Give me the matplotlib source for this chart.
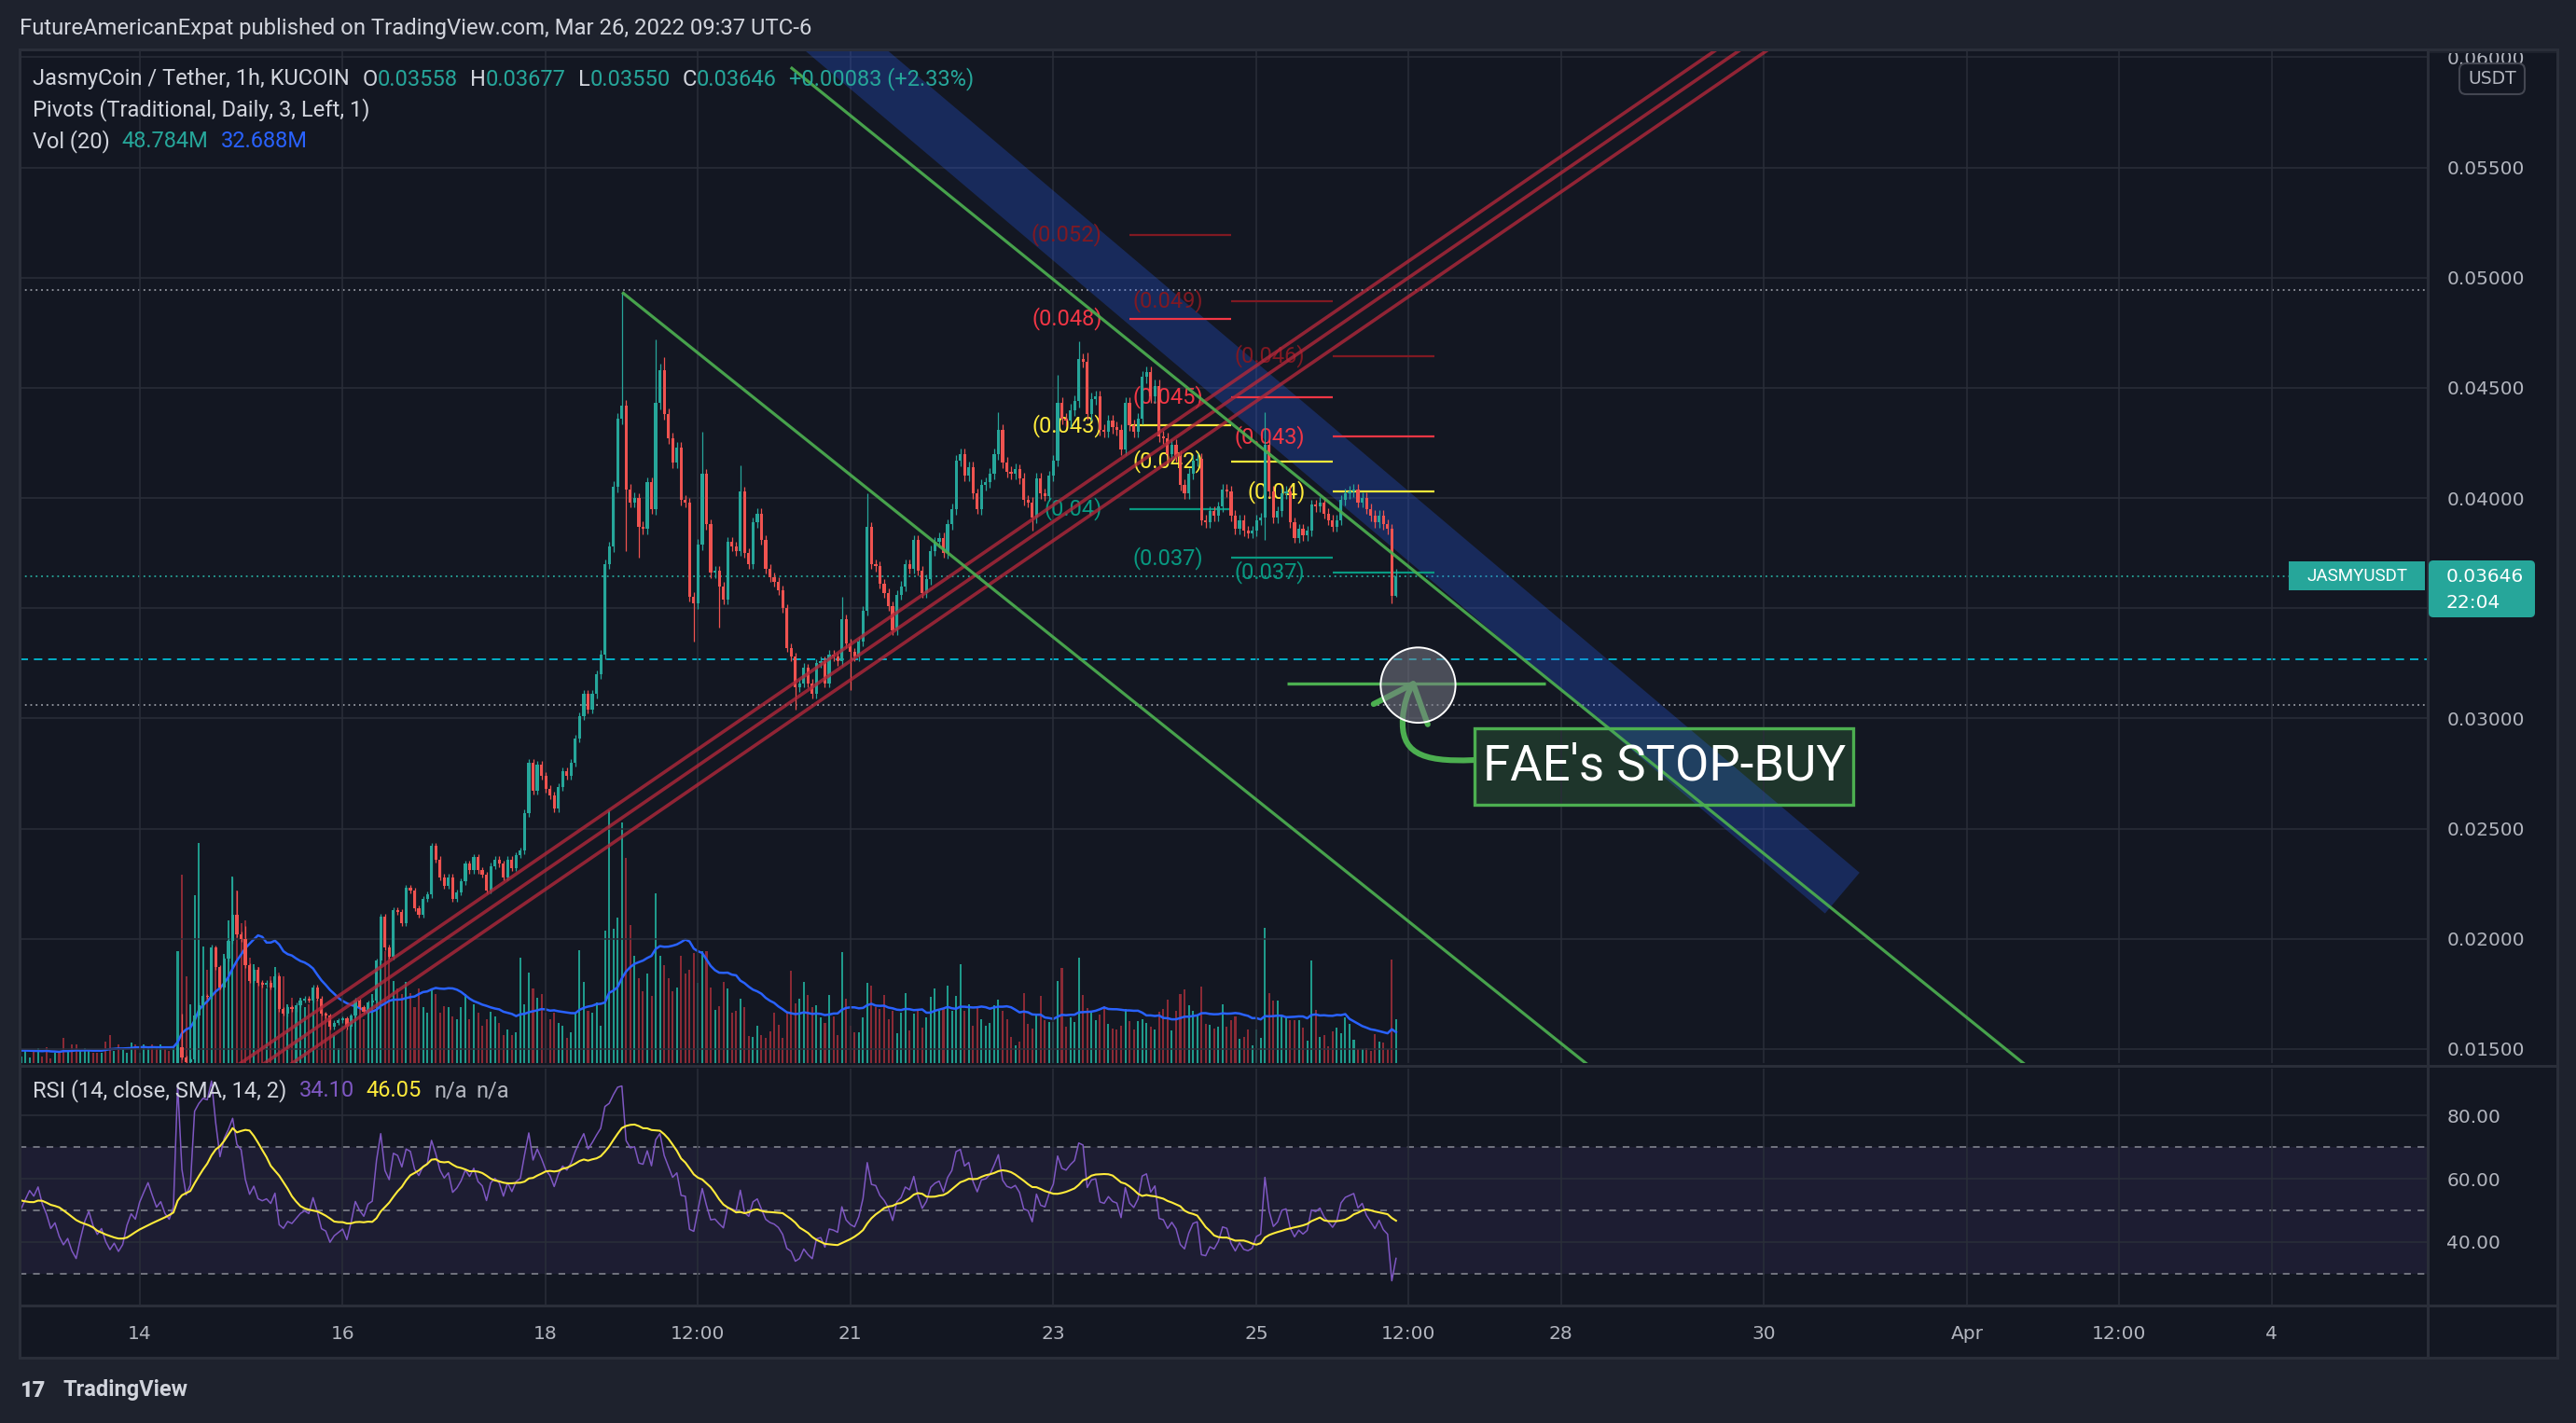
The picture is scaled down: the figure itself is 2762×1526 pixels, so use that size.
import numpy as np
import pandas as pd
import matplotlib
matplotlib.use("Agg")
import matplotlib.pyplot as plt
from matplotlib.patches import Rectangle, Ellipse, Polygon, FancyBboxPatch, PathPatch
from matplotlib.path import Path
from matplotlib.transforms import Affine2D
from matplotlib.ticker import FuncFormatter

# ----------------------------
# Data (JASMY/USDT 1h, KUCOIN)
# ----------------------------
# x axis is "day of March" (32 = Apr 1); first warm-up candle opens Mar 11 08:00
START_DAY = 11 + 8 / 24

# warm-up candles, left of the visible range
PRE_CLOSE = [0.01425, 0.01428, 0.01424, 0.01422, 0.01426, 0.01430, 0.01427, 0.01425, 0.01421, 0.01423,
             0.01426, 0.01424, 0.01420, 0.01418, 0.01422, 0.01425, 0.01423, 0.01427, 0.01429, 0.01426,
             0.01424, 0.01421, 0.01419, 0.01422, 0.01424, 0.01421, 0.01418, 0.01420, 0.01423, 0.01421,
             0.01419, 0.01417, 0.01420, 0.01422, 0.01420, 0.01418]
PRE_VOLUME = [12, 18, 9, 15, 20, 11, 14, 16, 8, 19, 13, 17, 10, 22, 15, 12, 18, 14, 9, 16,
              20, 13, 11, 17, 15, 19, 12, 14, 16, 10, 18, 13, 15, 17, 11, 14]

# visible candles, Mar 12 20:00 -> Mar 26 09:00
CLOSE = [
    0.01419, 0.01421, 0.01423, 0.01422, 0.01424, 0.01421, 0.01419, 0.01416, 0.01417, 0.01414,
    0.01412, 0.01413, 0.01410, 0.01408, 0.01411, 0.01414, 0.01416, 0.01413, 0.01411, 0.01412,
    0.01409, 0.01407, 0.01408, 0.01406, 0.01407, 0.01410, 0.01412, 0.01411, 0.01414, 0.01416,
    0.01418, 0.01416, 0.01414, 0.01415, 0.01413, 0.01412, 0.01414, 0.01510, 0.01462, 0.01440,
    0.01452, 0.01650, 0.01700, 0.01740, 0.01738, 0.01960, 0.01870, 0.01780, 0.01910, 0.01990,
    0.02110, 0.02020, 0.02000, 0.01880, 0.01810, 0.01860, 0.01800, 0.01790, 0.01800, 0.01780,
    0.01830, 0.01680, 0.01660, 0.01690, 0.01680, 0.01700, 0.01720, 0.01730, 0.01720, 0.01780,
    0.01730, 0.01660, 0.01650, 0.01600, 0.01620, 0.01630, 0.01640, 0.01600, 0.01650, 0.01720,
    0.01690, 0.01670, 0.01710, 0.01720, 0.01900, 0.02100, 0.01960, 0.01920, 0.02130, 0.02120,
    0.02070, 0.02230, 0.02220, 0.02140, 0.02110, 0.02180, 0.02200, 0.02420, 0.02360, 0.02280,
    0.02240, 0.02280, 0.02180, 0.02210, 0.02260, 0.02340, 0.02310, 0.02370, 0.02310, 0.02290,
    0.02220, 0.02330, 0.02360, 0.02340, 0.02280, 0.02360, 0.02320, 0.02380, 0.02400, 0.02570,
    0.02800, 0.02670, 0.02790, 0.02740, 0.02680, 0.02650, 0.02590, 0.02690, 0.02760, 0.02740,
    0.02800, 0.02910, 0.03010, 0.03110, 0.03040, 0.03110, 0.03200, 0.03290, 0.03700, 0.03780,
    0.04050, 0.04360, 0.04420, 0.04040, 0.03980, 0.04000, 0.03870, 0.03860, 0.04070, 0.03950,
    0.04430, 0.04580, 0.04380, 0.04270, 0.04160, 0.04230, 0.03990, 0.03980, 0.03550, 0.03520,
    0.03790, 0.04110, 0.03880, 0.03660, 0.03670, 0.03600, 0.03540, 0.03800, 0.03780, 0.03760,
    0.04030, 0.03750, 0.03700, 0.03890, 0.03930, 0.03810, 0.03680, 0.03640, 0.03620, 0.03580,
    0.03500, 0.03320, 0.03280, 0.03140, 0.03160, 0.03230, 0.03160, 0.03110, 0.03250, 0.03260,
    0.03160, 0.03290, 0.03280, 0.03260, 0.03450, 0.03340, 0.03300, 0.03280, 0.03350, 0.03490,
    0.03870, 0.03700, 0.03690, 0.03610, 0.03570, 0.03510, 0.03400, 0.03560, 0.03600, 0.03700,
    0.03680, 0.03810, 0.03670, 0.03570, 0.03630, 0.03760, 0.03800, 0.03820, 0.03750, 0.03880,
    0.03950, 0.04170, 0.04200, 0.04100, 0.04140, 0.04020, 0.03950, 0.04060, 0.04070, 0.04110,
    0.04200, 0.04310, 0.04160, 0.04120, 0.04110, 0.04130, 0.04090, 0.03990, 0.03980, 0.03910,
    0.04090, 0.04020, 0.04010, 0.04100, 0.04170, 0.04430, 0.04360, 0.04350, 0.04400, 0.04440,
    0.04630, 0.04620, 0.04380, 0.04450, 0.04460, 0.04310, 0.04300, 0.04350, 0.04320, 0.04310,
    0.04220, 0.04430, 0.04330, 0.04300, 0.04360, 0.04550, 0.04570, 0.04460, 0.04510, 0.04280,
    0.04270, 0.04200, 0.04240, 0.04190, 0.04060, 0.04020, 0.04110, 0.04170, 0.04180, 0.03900,
    0.03890, 0.03940, 0.03920, 0.03960, 0.04040, 0.04030, 0.03920, 0.03860, 0.03900, 0.03850,
    0.03840, 0.03850, 0.03900, 0.03910, 0.04240, 0.04030, 0.03910, 0.03940, 0.04020, 0.04030,
    0.03890, 0.03820, 0.03860, 0.03830, 0.03850, 0.03970, 0.03960, 0.03980, 0.03930, 0.03900,
    0.03870, 0.03900, 0.03990, 0.04020, 0.04030, 0.04040, 0.03980, 0.04000, 0.03950, 0.03920,
    0.03890, 0.03920, 0.03880, 0.03860, 0.03558, 0.03646,
]

# volume in millions
VOLUME = [
    7, 14, 6, 14, 17, 7, 18, 5, 12, 12,
    28, 14, 21, 21, 14, 17, 14, 12, 12, 12,
    24, 31, 14, 21, 17, 12, 23, 21, 12, 21,
    17, 21, 17, 21, 16, 14, 18, 125, 211, 97,
    66, 188, 247, 131, 104, 129, 129, 97, 122, 160,
    209, 193, 157, 160, 118, 111, 108, 91, 84, 97,
    108, 101, 97, 66, 73, 63, 73, 63, 66, 82,
    71, 63, 56, 49, 31, 17, 42, 38, 45, 70,
    70, 49, 56, 77, 115, 150, 125, 122, 92, 84,
    77, 91, 78, 63, 84, 63, 56, 84, 77, 56,
    64, 63, 52, 49, 63, 77, 49, 66, 56, 42,
    49, 57, 52, 45, 31, 38, 31, 35, 118, 66,
    101, 84, 73, 77, 56, 49, 56, 45, 42, 28,
    35, 56, 126, 91, 59, 56, 68, 42, 148, 283,
    150, 163, 270, 230, 155, 120, 95, 80, 100, 75,
    190, 120, 110, 95, 80, 85, 120, 100, 104, 123,
    90, 125, 125, 85, 60, 64, 91, 84, 56, 59,
    72, 63, 30, 29, 42, 31, 28, 36, 56, 43,
    28, 56, 103, 67, 72, 91, 76, 63, 65, 51,
    45, 76, 52, 31, 124, 72, 42, 35, 35, 51,
    90, 87, 63, 61, 76, 49, 59, 33, 56, 78,
    37, 55, 59, 40, 51, 74, 84, 59, 61, 87,
    59, 75, 111, 59, 66, 42, 64, 49, 42, 45,
    65, 71, 59, 49, 29, 20, 24, 78, 44, 39,
    53, 75, 48, 46, 46, 92, 107, 41, 51, 46,
    118, 76, 62, 58, 48, 54, 64, 44, 39, 38,
    42, 61, 47, 38, 47, 49, 45, 41, 38, 58,
    61, 71, 37, 59, 77, 83, 65, 59, 53, 86,
    44, 43, 39, 41, 66, 41, 48, 52, 27, 29,
    38, 20, 38, 28, 152, 78, 70, 70, 52, 52,
    48, 48, 48, 40, 25, 115, 60, 29, 31, 19,
    36, 40, 33, 51, 44, 26, 16, 16, 17, 14,
    32, 24, 23, 16, 116, 48.784,
]

# long wicks (visible candle index -> high, low)
WICKS = {
    38: (0.0166, None), 50: (0.0228, None), 51: (0.0222, None), 53: (0.0206, None),
    142: (0.0493, None), 143: (None, 0.0376), 146: (None, 0.0373), 150: (0.0472, None),
    152: (0.0464, None), 159: (None, 0.0335), 161: (0.0430, None), 165: (None, 0.0341),
    170: (0.0415, None), 183: (None, 0.0304), 194: (0.0355, None), 196: (None, 0.0313),
    200: (0.0402, None), 206: (None, 0.0338), 231: (0.0439, None), 239: (None, 0.0385),
    245: (0.0456, None), 250: (0.0471, None), 252: (0.0466, None), 294: (0.0439, 0.0381),
    324: (0.0388, 0.0352), 325: (0.03677, 0.03550),
}

# daily pivots (Traditional), sessions start 18:00 local
PIVOT_START = [23.75, 24.75, 25.75]
PIVOT_R2 = [0.05195, 0.04895, 0.04645]
PIVOT_R1 = [0.04814, 0.04459, 0.04278]
PIVOT_P = [0.04330, 0.04166, 0.04029]
PIVOT_S1 = [0.03950, 0.03728, 0.03662]
PIVOT_R2_TXT = ["(0.052)", "(0.049)", "(0.046)"]
PIVOT_R1_TXT = ["(0.048)", "(0.045)", "(0.043)"]
PIVOT_P_TXT = ["(0.043)", "(0.042)", "(0.04)"]
PIVOT_S1_TXT = ["(0.04)", "(0.037)", "(0.037)"]

# user drawings (day, price)
RED_CHANNEL = [((14.5, 0.01279), (31.0, 0.06499)),
               ((14.5, 0.01204), (31.0, 0.06424)),
               ((14.5, 0.01118), (31.0, 0.06338))]
GREEN_LINES = [((18.764, 0.04929), (29.0, 0.01157)),
               ((20.424, 0.05950), (33.5, 0.01083))]
BLUE_BAND = [(20.40, 0.06090), (20.74, 0.06275), (30.94, 0.02300), (30.60, 0.02115)]
STOP_BUY = ((25.302, 27.846), 0.03158)
CIRCLE = ((26.592, 0.03151), 0.737, 0.003415)
ARROW_CURVE = [(27.138, 0.02811), (26.60, 0.02800), (26.42, 0.02850), (26.441, 0.03002),
               (26.46, 0.03100), (26.544, 0.03157)]
ARROW_HEAD = [(26.154, 0.03065), (26.544, 0.03157), (26.687, 0.02973)]
NOTE_BOX = ((27.151, 0.02607), (30.882, 0.02955))
LEVEL_LINES = [(0.04945, "#9598a1", (0, (1, 2.2))), (0.03646, "#26a69a", (0, (1, 2.2))),
               (0.03268, "#00bcd4", (0, (5, 3.5))), (0.03062, "#9598a1", (0, (1, 2.2)))]

TICK_POS = [14, 16, 18, 19.5, 21, 23, 25, 26.5, 28, 30, 32, 33.5, 35]
TICK_LBL = ["14", "16", "18", "12:00", "21", "23", "25", "12:00", "28", "30", "Apr", "12:00", "4"]

# ----------------------------
# Derived series
# ----------------------------
closes = np.array(PRE_CLOSE + CLOSE)
vols = np.array(PRE_VOLUME + VOLUME, dtype=float)
n = len(closes)
npre = len(PRE_CLOSE)
times = START_DAY + np.arange(n) / 24
opens = np.concatenate([[closes[0]], closes[:-1]])
opens[-1] = 0.03558
wick = 0.006 * closes
highs = np.maximum(opens, closes) + wick
lows = np.minimum(opens, closes) - wick
for i, (hi, lo) in WICKS.items():
    if hi is not None:
        highs[npre + i] = hi
    if lo is not None:
        lows[npre + i] = lo
up = closes >= opens

vol_ma = pd.Series(vols).rolling(20).mean()
delta = pd.Series(closes).diff()
gain = delta.clip(lower=0).ewm(alpha=1 / 14, adjust=False).mean()
loss = (-delta.clip(upper=0)).ewm(alpha=1 / 14, adjust=False).mean()
rsi = 100 - 100 / (1 + gain / loss)
rsi_ma = rsi.rolling(14).mean()

# ----------------------------
# Figure / layout (pixel based)
# ----------------------------
W, H = 2762, 1526
BG = "#131722"
GRID = "#2a2e39"
TXT = "#b2b5be"
UP, DOWN = "#26a69a", "#ef5350"
FONT = "Roboto"

fig = plt.figure(figsize=(W / 100, H / 100), dpi=100, facecolor="#1e222d")
PX = Affine2D().scale(1, -1).translate(0, H)

fig.add_artist(Rectangle((21, 53), 2742 - 21, 1456 - 53, transform=PX, facecolor=BG,
                         edgecolor="none", zorder=-5))

L, R = 21, 2603
ax = fig.add_axes([L / W, 1 - 1140 / H, (R - L) / W, (1140 - 53) / H])
ax_vol = ax.twinx()
ax.set_zorder(ax_vol.get_zorder() + 1)
ax.patch.set_visible(False)
ax_vol.patch.set_facecolor(BG)
ax_rsi = fig.add_axes([L / W, 1 - 1400 / H, (R - L) / W, (1400 - 1146) / H], facecolor=BG)

XL = (12.818, 36.536)
for a in (ax, ax_vol, ax_rsi):
    a.set_xlim(*XL)
    for s in a.spines.values():
        s.set_visible(False)

ax.set_ylim(0.014362, 0.060353)
ax_vol.set_ylim(0, 1136)
ax_vol.yaxis.set_visible(False)
ax_rsi.set_ylim(19.9, 94.8)

# grid + ticks
ax.set_xticks(TICK_POS)
ax.set_yticks(np.arange(0.015, 0.0601, 0.005))
ax.yaxis.tick_right()
ax.yaxis.set_major_formatter(FuncFormatter(lambda v, _: f"{v:.5f}"))
ax.tick_params(axis="x", length=0, labelbottom=False)
ax.tick_params(axis="y", length=0, pad=14.5, labelsize=14.5, labelcolor=TXT, left=False,
               labelleft=False, right=False, labelright=True)
ax.grid(True, color=GRID, lw=1.1, zorder=0)
ax_vol.tick_params(axis="x", length=0, labelbottom=False)

ax_rsi.set_xticks(TICK_POS)
ax_rsi.set_xticklabels(TICK_LBL)
ax_rsi.set_yticks([40, 60, 80])
ax_rsi.yaxis.tick_right()
ax_rsi.yaxis.set_major_formatter(FuncFormatter(lambda v, _: f"{v:.2f}"))
ax_rsi.tick_params(axis="both", length=0, labelsize=14.5, labelcolor=TXT)
ax_rsi.tick_params(axis="x", pad=15)
ax_rsi.tick_params(axis="y", pad=14.5)
ax_rsi.grid(True, color=GRID, lw=1.1, zorder=0)

# ----------------------------
# Volume + MA
# ----------------------------
ax_vol.bar(times, vols, width=0.45 / 24, color=np.where(up, "#1f9a8b", "#8a2a35"),
           linewidth=0, zorder=2)
ax_vol.plot(times, vol_ma, color="#2962ff", lw=1.8, zorder=3)

# ----------------------------
# Price pane drawings
# ----------------------------
for lvl, col, ls in LEVEL_LINES:
    ax.axhline(lvl, color=col, lw=1.3, ls=ls, zorder=1)

(bx0, by0), (bx1, by1) = NOTE_BOX
ax.add_patch(Rectangle((bx0, by0), bx1 - bx0, by1 - by0, facecolor="#4caf50", alpha=0.2,
                       edgecolor="none", zorder=1.5))
ax.add_patch(Rectangle((bx0, by0), bx1 - bx0, by1 - by0, facecolor="none",
                       edgecolor="#4caf50", lw=2.4, zorder=4.5))
ax.add_patch(Polygon(BLUE_BAND, closed=True, facecolor="#2962ff", alpha=0.26,
                     edgecolor="none", zorder=2))

for k, t0 in enumerate(PIVOT_START):
    for lv, txt, col in ((PIVOT_R2, PIVOT_R2_TXT, "#801922"), (PIVOT_R1, PIVOT_R1_TXT, "#f23645"),
                         (PIVOT_P, PIVOT_P_TXT, "#ffeb3b"), (PIVOT_S1, PIVOT_S1_TXT, "#089981")):
        ax.hlines(lv[k], t0, t0 + 1, color=col, lw=1.6, zorder=2.5)
        ax.text(t0 - 0.27, lv[k], txt[k], color=col, ha="right", va="center", size=17,
                family=FONT, zorder=2.6)

# candles
ax.vlines(times, lows, highs, colors=np.where(up, UP, DOWN), lw=0.9, zorder=3)
ax.bar(times, np.maximum(np.abs(closes - opens), 0.00004), bottom=np.minimum(opens, closes),
       width=0.7 / 24, color=np.where(up, UP, DOWN), linewidth=0, zorder=3.1)

for (p0, p1) in RED_CHANNEL:
    ax.plot([p0[0], p1[0]], [p0[1], p1[1]], color="#b2283a", alpha=0.8, lw=2.6,
            solid_capstyle="butt", zorder=4)
for (p0, p1) in GREEN_LINES:
    ax.plot([p0[0], p1[0]], [p0[1], p1[1]], color="#4caf50", lw=2.3, alpha=0.92, zorder=4)
ax.hlines(STOP_BUY[1], *STOP_BUY[0], color="#4caf50", lw=2.4, zorder=4)

codes = [Path.MOVETO, Path.CURVE4, Path.CURVE4, Path.CURVE4, Path.CURVE3, Path.CURVE3]
ax.add_patch(PathPatch(Path(ARROW_CURVE, codes), facecolor="none", edgecolor="#4caf50",
                       lw=4.4, capstyle="round", zorder=5))
ax.plot([p[0] for p in ARROW_HEAD], [p[1] for p in ARROW_HEAD], color="#4caf50", lw=4.4,
        solid_capstyle="round", solid_joinstyle="round", zorder=5)
(cx, cy), cw, ch = CIRCLE
ax.add_patch(Ellipse((cx, cy), cw, ch, facecolor="#787b86", alpha=0.55, edgecolor="none", zorder=6))
ax.add_patch(Ellipse((cx, cy), cw, ch, facecolor="none", edgecolor="white", lw=1.4, zorder=6.1))
ax.text((bx0 + bx1) / 2, (by0 + by1) / 2, "FAE's STOP-BUY", color="white", size=38,
        family=FONT, ha="center", va="center", zorder=7)

# ----------------------------
# RSI pane
# ----------------------------
ax_rsi.axhspan(30, 70, color="#7e57c2", alpha=0.1, lw=0, zorder=0.5)
for v in (70, 50, 30):
    ax_rsi.axhline(v, color="#787b86", lw=1.3, ls=(0, (4, 4)), zorder=1)
ax_rsi.plot(times, rsi, color="#7e57c2", lw=1.1, zorder=2)
ax_rsi.plot(times, rsi_ma, color="#ffeb3b", lw=1.5, zorder=3)

# ----------------------------
# Frame, labels, header
# ----------------------------
fig.add_artist(Rectangle((0, 0), W, 52, transform=PX, facecolor="#1e222d", edgecolor="none",
                         zorder=4))
fig.add_artist(Rectangle((2605, 0), 2742 - 2605, 57, transform=PX, facecolor="#1e222d",
                         edgecolor="none", zorder=4))
for (x0, y0, x1, y1) in ((21, 53, 2742, 53), (21, 1143, 2742, 1143), (21, 1400, 2742, 1400),
                         (21, 1456, 2742, 1456), (2603, 53, 2603, 1456), (21, 53, 21, 1456),
                         (2742, 53, 2742, 1456)):
    fig.add_artist(plt.Line2D([x0, x1], [y0, y1], transform=PX, color=GRID, lw=2.2, zorder=4.5))

renderer = fig.canvas.get_renderer()


def seq(x, y, parts, size=17):
    for s, col, gap in parts:
        t = fig.text(x, y, s, transform=PX, color=col, size=size, family=FONT,
                     ha="left", va="center", zorder=8)
        x += t.get_window_extent(renderer=renderer).width + gap


seq(21, 30, [("FutureAmericanExpat published on TradingView.com, Mar 26, 2022 09:37 UTC-6",
              "#d1d4dc", 0)], size=17.2)
seq(35, 85, [("JasmyCoin / Tether, 1h, KUCOIN", "#d1d4dc", 14), ("O", "#d1d4dc", 0),
             ("0.03558", UP, 13), ("H", "#d1d4dc", 0), ("0.03677", UP, 13),
             ("L", "#d1d4dc", 0), ("0.03550", UP, 13), ("C", "#d1d4dc", 0),
             ("0.03646", UP, 13), ("+0.00083 (+2.33%)", UP, 0)])
seq(35, 118, [("Pivots (Traditional, Daily, 3, Left, 1)", "#d1d4dc", 0)])
seq(35, 152, [("Vol (20)", "#d1d4dc", 13), ("48.784M", UP, 13), ("32.688M", "#2962ff", 0)])
seq(35, 1170, [("RSI (14, close, SMA, 14, 2)", "#d1d4dc", 13), ("34.10", "#7e57c2", 13),
               ("46.05", "#ffeb3b", 13), ("n/a", "#b2b5be", 10), ("n/a", "#b2b5be", 0)])

# price-scale badges
fig.add_artist(FancyBboxPatch((2637, 68), 70, 33, boxstyle="round,pad=0,rounding_size=7",
                              transform=PX, facecolor=BG, edgecolor="#434651", lw=1.5, zorder=5))
fig.text(2672, 85, "USDT", transform=PX, color=TXT, size=13.5, ha="center", va="center",
         zorder=6)
fig.add_artist(Rectangle((2454, 602), 146, 31, transform=PX, facecolor=UP, edgecolor="none",
                         zorder=5))
fig.text(2527, 618, "JASMYUSDT", transform=PX, color="white", size=13.5, ha="center",
         va="center", family=FONT, zorder=6)
fig.add_artist(FancyBboxPatch((2604, 601), 114, 61, boxstyle="round,pad=0,rounding_size=5",
                              transform=PX, facecolor=UP, edgecolor="none", zorder=5))
fig.text(2623, 619, "0.03646", transform=PX, color="white", size=14.5, ha="left",
         va="center", zorder=6)
fig.text(2623, 646, "22:04", transform=PX, color="white", size=14.5, ha="left",
         va="center", zorder=6)

# footer logo
fig.text(21, 1491, "17", transform=PX, color="#d1d4dc", size=17, weight="heavy",
         family=FONT, ha="left", va="center")
fig.text(67, 1491, "TradingView", transform=PX, color="#d1d4dc", size=17, weight="bold",
         family=FONT, ha="left", va="center")

fig.savefig("out.png", dpi=100, facecolor=fig.get_facecolor())
